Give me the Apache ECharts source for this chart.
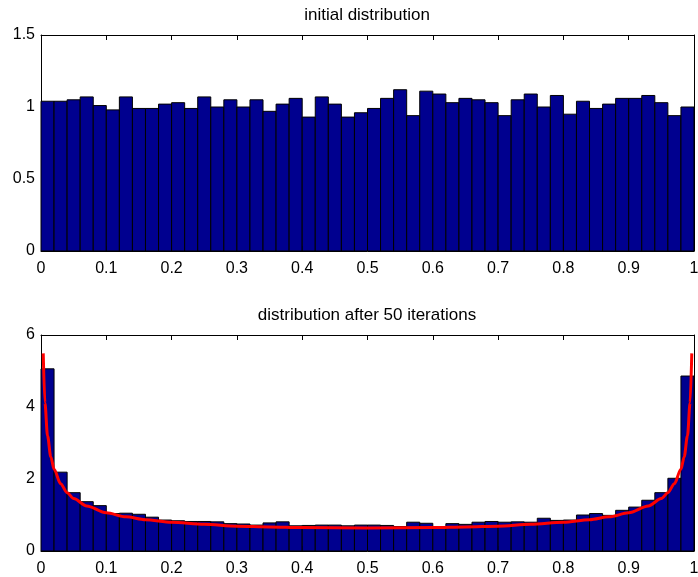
<!DOCTYPE html>
<html>
<head>
<meta charset="utf-8">
<script src="https://cdn.jsdelivr.net/npm/echarts@6/dist/echarts.min.js"></script>
<style>
  html, body { margin: 0; padding: 0; background: #fff; }
  #chart { width: 698px; height: 577px; }
</style>
</head>
<body>
<div id="chart"></div>
<script>
// histogram data (50 bins on [0, 1])
const xTickLabels = ['0', '0.1', '0.2', '0.3', '0.4', '0.5', '0.6', '0.7', '0.8', '0.9', '1'];
const binCount = 50;

const initialDensity = [
  1.04, 1.04, 1.05, 1.07, 1.01, 0.98, 1.07, 0.99, 0.99, 1.02,
  1.03, 0.99, 1.07, 1.00, 1.05, 1.00, 1.05, 0.97, 1.02, 1.06,
  0.93, 1.07, 1.02, 0.93, 0.96, 0.99, 1.06, 1.12, 0.94, 1.11,
  1.09, 1.03, 1.06, 1.05, 1.03, 0.94, 1.05, 1.09, 1.00, 1.08,
  0.95, 1.04, 0.99, 1.02, 1.06, 1.06, 1.08, 1.03, 0.94, 1.00
];

const finalDensity = [
  5.06, 2.19, 1.62, 1.37, 1.26, 1.04, 1.05, 1.02, 0.94, 0.86,
  0.84, 0.82, 0.82, 0.81, 0.76, 0.75, 0.72, 0.78, 0.81, 0.70,
  0.71, 0.72, 0.72, 0.70, 0.72, 0.72, 0.71, 0.68, 0.80, 0.77,
  0.68, 0.76, 0.74, 0.80, 0.82, 0.80, 0.81, 0.80, 0.91, 0.85,
  0.86, 1.00, 1.04, 0.99, 1.13, 1.22, 1.41, 1.62, 2.02, 4.86
];

// red reference curve
const curveX = [0.0034, 0.006, 0.01, 0.015, 0.02, 0.03, 0.04, 0.05, 0.07, 0.1,
  0.13, 0.16, 0.2, 0.25, 0.3, 0.35, 0.4, 0.5, 0.6, 0.65,
  0.7, 0.75, 0.8, 0.84, 0.87, 0.9, 0.93, 0.95, 0.96, 0.97,
  0.98, 0.985, 0.99, 0.994, 0.9966];
const curveY = [5.49, 4.12, 3.20, 2.62, 2.27, 1.87, 1.62, 1.46, 1.25, 1.06,
  0.95, 0.87, 0.80, 0.74, 0.69, 0.67, 0.65, 0.64, 0.65, 0.67,
  0.69, 0.74, 0.80, 0.87, 0.95, 1.06, 1.25, 1.46, 1.62, 1.87,
  2.27, 2.62, 3.20, 4.12, 5.49];

const navy = '#00008f';
const font = "'Liberation Sans', Arial, sans-serif";

const chart = echarts.init(document.getElementById('chart'));

// bars drawn through the axes' own coordinate mapping
function renderBar(params, api) {
  const topLeft = api.coord([api.value(0), api.value(2)]);
  const bottomRight = api.coord([api.value(1), 0]);
  return {
    type: 'rect',
    shape: {
      x: topLeft[0],
      y: topLeft[1],
      width: bottomRight[0] - topLeft[0],
      height: bottomRight[1] - topLeft[1]
    },
    style: { fill: navy, stroke: '#000', lineWidth: 1 }
  };
}

function binData(values) {
  return values.map((v, i) => [i / binCount, (i + 1) / binCount, v]);
}

function xAxes(gridIndex) {
  const common = {
    gridIndex: gridIndex,
    type: 'value',
    min: 0,
    max: 1,
    interval: 0.1,
    axisLine: { show: true, onZero: false, lineStyle: { color: '#000', width: 1 } },
    axisTick: { show: true, inside: true, length: 5, lineStyle: { color: '#000' } },
    splitLine: { show: false }
  };
  return [
    Object.assign({}, common, {
      position: 'bottom',
      axisLabel: {
        color: '#000', fontSize: 16, fontFamily: font, margin: 10,
        formatter: v => xTickLabels[Math.round(v * 10)]
      }
    }),
    Object.assign({}, common, { position: 'top', axisLabel: { show: false } })
  ];
}

function yAxes(gridIndex, max, interval) {
  const common = {
    gridIndex: gridIndex,
    type: 'value',
    min: 0,
    max: max,
    interval: interval,
    axisLine: { show: true, onZero: false, lineStyle: { color: '#000', width: 1 } },
    axisTick: { show: true, inside: true, length: 5, lineStyle: { color: '#000' } },
    splitLine: { show: false }
  };
  return [
    Object.assign({}, common, {
      position: 'left',
      axisLabel: { color: '#000', fontSize: 16, fontFamily: font, margin: 6 }
    }),
    Object.assign({}, common, { position: 'right', axisLabel: { show: false } })
  ];
}

const option = {
  animation: false,
  backgroundColor: '#fff',
  title: [
    {
      text: 'initial distribution',
      left: 367, top: 7, textAlign: 'center', padding: 0,
      textStyle: { color: '#000', fontSize: 17, fontWeight: 'normal', fontFamily: font }
    },
    {
      text: 'distribution after 50 iterations',
      left: 367, top: 307, textAlign: 'center', padding: 0,
      textStyle: { color: '#000', fontSize: 17, fontWeight: 'normal', fontFamily: font }
    }
  ],
  grid: [
    { left: 41, top: 35, width: 653, height: 216, outerBoundsMode: 'none' },
    { left: 41, top: 335, width: 653, height: 216, outerBoundsMode: 'none' }
  ],
  xAxis: xAxes(0).concat(xAxes(1)),
  yAxis: yAxes(0, 1.5, 0.5).concat(yAxes(1, 6, 2)),
  series: [
    {
      type: 'custom',
      xAxisIndex: 0,
      yAxisIndex: 0,
      renderItem: renderBar,
      encode: { x: [0, 1], y: 2 },
      data: binData(initialDensity)
    },
    {
      type: 'custom',
      xAxisIndex: 2,
      yAxisIndex: 2,
      renderItem: renderBar,
      encode: { x: [0, 1], y: 2 },
      data: binData(finalDensity)
    },
    {
      type: 'line',
      xAxisIndex: 2,
      yAxisIndex: 2,
      showSymbol: false,
      smooth: 0.3,
      smoothMonotone: 'x',
      lineStyle: { color: '#ff0000', width: 3 },
      data: curveX.map((x, i) => [x, curveY[i]])
    }
  ]
};

chart.setOption(option);
</script>
</body>
</html>
